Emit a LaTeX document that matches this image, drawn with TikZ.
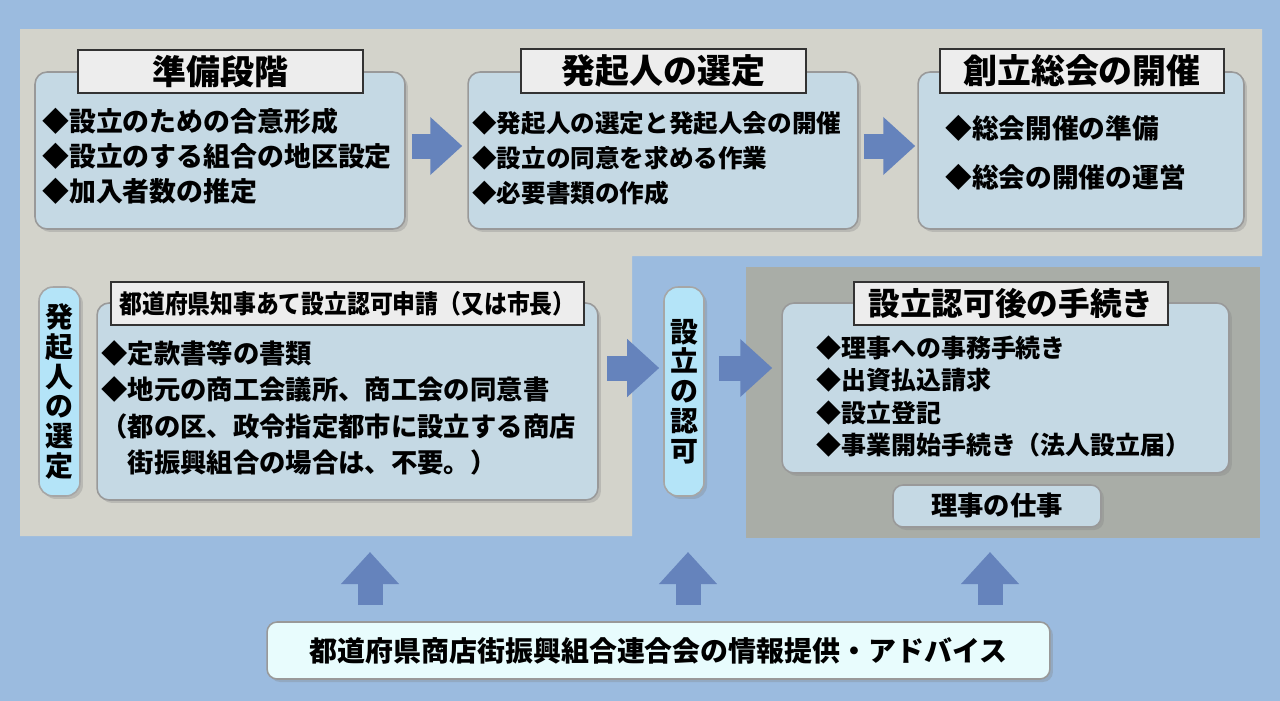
\documentclass[tikz,border=0pt]{standalone}
\usepackage{fontspec}
\setmainfont{Noto Sans CJK JP}
\usetikzlibrary{arrows.meta,shadows}

\definecolor{bgblue}{HTML}{9BBBDF}
\definecolor{beige}{HTML}{D3D3CB}
\definecolor{panelgrey}{HTML}{A9ADA7}
\definecolor{boxblue}{HTML}{C5D9E4}
\definecolor{pillcyan}{HTML}{B4E4F8}
\definecolor{arrowblue}{HTML}{6583BC}
\definecolor{johocyan}{HTML}{E8FCFD}

\tikzset{
  softshadow/.style={drop shadow={shadow xshift=0.06cm, shadow yshift=-0.06cm, opacity=0.3}},
  stagebox/.style={draw=black!40, line width=0.9pt, fill=boxblue, rounded corners=0.24cm, inner sep=0pt, softshadow},
  titlebox/.style={draw=black!80, line width=1pt, fill=black!7, inner sep=0pt, font=\bfseries\fontsize{19.3}{22}\selectfont},
  pill/.style={draw=black!35, line width=0.9pt, fill=pillcyan, rounded corners=0.28cm, inner sep=0pt, align=center, softshadow, font=\bfseries\fontsize{15.9}{17}\selectfont},
  itemtext/.style={anchor=west, align=left, inner sep=0pt},
  bigarrow/.style={draw=arrowblue, line width=0.5cm, -{Triangle[length=0.64cm,width=1.12cm]}},
}

\begin{document}
\begin{tikzpicture}[x=0.02cm, y=-0.02cm]
  \useasboundingbox (0,0) rectangle (1280,700);
  \fill[bgblue] (-20,-20) rectangle (1300,720);
  % panels
  \fill[beige] (20,29) -- (1262,29) -- (1262,256) -- (632,256) -- (632,536) -- (20,536) -- cycle;
  \node[fill=panelgrey, minimum width=10.28cm, minimum height=5.42cm, inner sep=0pt] (atoPanel) at (1003,402.5) {};

  % top row
  \node[stagebox, minimum width=7.4cm, minimum height=3.14cm] (prep) at (220,150.5) {};
  \node[stagebox, minimum width=7.8cm, minimum height=3.14cm] (hokki) at (663,150.5) {};
  \node[stagebox, minimum width=6.52cm, minimum height=3.14cm] (sokai) at (1081,150.5) {};
  \node[titlebox, minimum width=5.7cm, minimum height=0.86cm] (prepT) at (220.5,71.5) {準備段階};
  \node[titlebox, minimum width=5.7cm, minimum height=0.88cm] (hokkiT) at (663.5,71) {発起人の選定};
  \node[titlebox, minimum width=5.68cm, minimum height=0.88cm] (sokaiT) at (1082,71) {創立総会の開催};
  \node[itemtext, font=\bfseries\fontsize{15.3}{19.8}\selectfont] (prepTxt) at (42,156)
    {◆設立のための合意形成\\◆設立のする組合の地区設定\\◆加入者数の推定};
  \node[itemtext, font=\bfseries\fontsize{14}{20}\selectfont] (hokkiTxt) at (472,158)
    {◆発起人の選定と発起人会の開催\\◆設立の同意を求める作業\\◆必要書類の作成};
  \node[itemtext, font=\bfseries\fontsize{15.2}{27.8}\selectfont] (sokaiTxt) at (945,152.5)
    {◆総会開催の準備\\◆総会の開催の運営};

  % lower row
  \node[pill, minimum width=0.82cm, minimum height=4.18cm] (hokkiP) at (59.5,391.5) {発\\起\\人\\の\\選\\定};
  \node[stagebox, minimum width=10.02cm, minimum height=3.94cm] (shinsei) at (347.5,401.5) {};
  \node[titlebox, minimum width=9.46cm, minimum height=0.86cm, font=\bfseries\fontsize{14.6}{16}\selectfont] (shinseiT) at (347.5,303.5)
    {\scalebox{0.89}[1]{都道府県知事あて設立認可申請（又は市長）}};
  \node[itemtext, font=\bfseries\fontsize{15}{20.7}\selectfont] (shinseiTxt) at (101,408)
    {◆定款書等の書類\\◆地元の商工会議所、商工会の同意書\\（都の区、政令指定都市に設立する商店\\　街振興組合の場合は、不要。）};
  \node[pill, minimum width=0.8cm, minimum height=4.18cm] (ninkaP) at (684,391.5) {設\\立\\の\\認\\可};
  \node[stagebox, minimum width=8.94cm, minimum height=3.4cm] (ato) at (1005.5,388) {};
  \node[titlebox, minimum width=6.28cm, minimum height=0.86cm, font=\bfseries\fontsize{18}{21}\selectfont] (atoT) at (1011,303.5) {設立認可後の手続き};
  \node[itemtext, font=\bfseries\fontsize{14.2}{18.3}\selectfont] (atoTxt) at (816,396.5)
    {◆理事への事務手続き\\◆出資払込請求\\◆設立登記\\◆事業開始手続き（法人設立届）};
  \node[stagebox, minimum width=4.16cm, minimum height=0.84cm, rounded corners=0.2cm, font=\bfseries\fontsize{15}{17}\selectfont] (riji) at (997,506) {理事の仕事};

  % bottom
  \node[stagebox, fill=johocyan, minimum width=15.66cm, minimum height=1.14cm, rounded corners=0.2cm, font=\bfseries\fontsize{15.9}{18}\selectfont] (joho) at (658.5,650.5)
    {都道府県商店街振興組合連合会の情報提供・アドバイス};

  % arrows
  \coordinate (rowB) at (0,368);
  \coordinate (supL) at (370,552);
  \coordinate (supM) at (688,552);
  \coordinate (supR) at (990,552);
  \draw[bigarrow, shorten <=0.12cm, shorten >=0.1cm] ([yshift=0.09cm]prep.east) -- ([yshift=0.09cm]hokki.west);
  \draw[bigarrow, shorten <=0.1cm, shorten >=0.04cm] ([yshift=0.09cm]hokki.east) -- ([yshift=0.09cm]sokai.west);
  \draw[bigarrow, shorten <=0.17cm, shorten >=0.08cm] (shinsei.east |- rowB) -- (ninkaP.west |- rowB);
  \draw[bigarrow, shorten <=0.28cm, shorten >=0.18cm] (ninkaP.east |- rowB) -- (ato.west |- rowB);
  \draw[bigarrow, shorten <=0.32cm] (joho.north -| supL) -- (supL);
  \draw[bigarrow, shorten <=0.32cm] (joho.north -| supM) -- (supM);
  \draw[bigarrow, shorten <=0.32cm] (joho.north -| supR) -- (supR);
\end{tikzpicture}
\end{document}
